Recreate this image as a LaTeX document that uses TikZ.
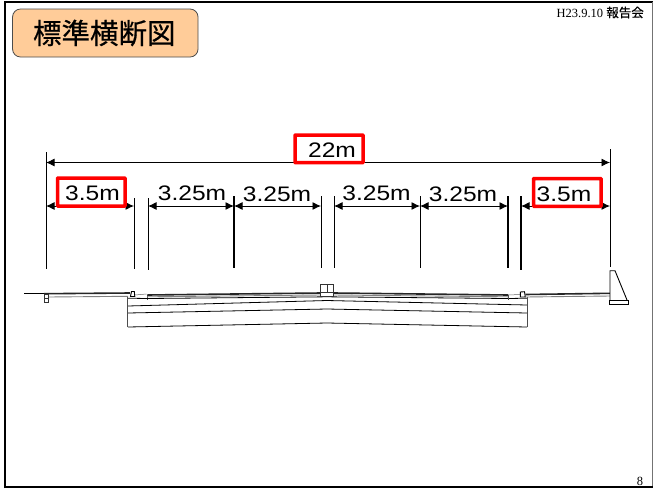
\documentclass[tikz,border=0pt]{standalone}
\usepackage{fontspec}
\setmainfont{Liberation Serif}
\newfontfamily\cjkf[FakeBold=0.6]{Noto Sans CJK JP}
\newfontfamily\dimf[FakeStretch=1.17]{Liberation Sans}
\usetikzlibrary{arrows.meta}
\definecolor{titlefill}{HTML}{FFCC99}
\tikzset{
  tick/.style={line width=0.9pt,black},
  tickheavy/.style={line width=1.3pt,black},
  dimline/.style={line width=0.9pt,{Latex[length=8.5pt,width=8pt]}-{Latex[length=8.5pt,width=8pt]}},
  redbox/.style={draw=red,line width=3.5pt,fill=white,rounded corners=0.6pt,anchor=north west,inner sep=0pt,outer sep=0pt},
  dimlabel/.style={font=\dimf\fontsize{21}{21}\selectfont,inner sep=0pt},
  secline/.style={line width=0.8pt,black},
  secdark/.style={line width=1.6pt,black!85},
  secgray/.style={line width=0.9pt,black!50},
}
\begin{document}
\begin{tikzpicture}[x=1pt,y=-1pt,line cap=butt]
\useasboundingbox (0,0) rectangle (653,488);
\fill[white] (0,0) rectangle (653,488);
% slide frame
\draw[black,line width=2.4pt] (5.2,488) -- (5.2,2) -- (653,2);
\draw[black!55,line width=1pt] (652.2,2) -- (652.2,487);
\draw[black,line width=1.6pt] (5,487) -- (653,487);
% title
\node[draw=black!70,fill=titlefill,line width=0.8pt,rounded corners=8pt,minimum width=185.5pt,minimum height=48pt,inner sep=0pt,outer sep=0pt] (title) at (105.3,33) {};
\node[inner sep=0pt,font=\cjkf\fontsize{28.5}{28.5}\selectfont] (titletext) at (104.3,33) {標準横断図};
\node[anchor=east,inner sep=0pt,font=\fontsize{12.5}{12.5}\selectfont] (date) at (644,12.5) {H23.9.10 {\cjkf 報告会}};
\node[inner sep=0pt,font=\fontsize{12.5}{12.5}\selectfont] (page) at (640,481) {8};
% tick tops and bottoms
\foreach \n/\x/\t/\b/\s in {a/46/152/268.5/tick,b/134/198/268.5/tick,c/148/198/269.5/tick,d/234/196/267.5/tickheavy,e/321/196/268/tick,f/334/196/268/tick,g/420/196/268/tick,h/508/196/268/tickheavy,i/521/196/269.5/tickheavy,j/610/149/267/tick}{
  \coordinate (\n t) at (\x,\t);
  \coordinate (\n b) at (\x,\b);
  \draw[\s] (\n t) -- (\n b);
  \coordinate (\n m) at (\x,206);
  \coordinate (\n u) at (\x,162.5);
}
% dimension lines
\draw[dimline] (au) -- (ju);
\draw[dimline] (am) -- (bm);
\draw[dimline] (cm) -- (dm);
\draw[dimline] (dm) -- (em);
\draw[dimline] (fm) -- (gm);
\draw[dimline] (gm) -- (hm);
\draw[dimline] (im) -- (jm);
% red boxes
\node[redbox,minimum width=68pt,minimum height=27.7pt] (box22) at (295,135) {};
\node[redbox,minimum width=67.5pt,minimum height=28pt] (boxl) at (57.5,178) {};
\node[redbox,minimum width=67.5pt,minimum height=27.8pt] (boxr) at (533.5,178.5) {};
% labels
\node[dimlabel] (l22) at (332,150) {22m};
\node[dimlabel] (l1) at (92.5,193) {3.5m};
\node[dimlabel] (l2) at (192,193.5) {3.25m};
\node[dimlabel] (l3) at (277,194) {3.25m};
\node[dimlabel] (l4) at (376.5,193.5) {3.25m};
\node[dimlabel] (l5) at (463,194) {3.25m};
\node[dimlabel] (l6) at (564,194) {3.5m};
% cross-section: left shoulder
\draw[secline] (24,293.5) -- (44,293.5);
\draw[secdark] (44,293.7) -- (130,293);
\draw[secgray] (48,297) -- (128,296.3);
\draw[line width=0.7pt,black!80] (44,294) rectangle (48.5,302) (44,298) -- (48.5,298);
% left curb
\draw[fill=white,line width=0.9pt] (130.5,296.5) -- (131.5,291.5) -- (134.3,291.5) -- (134.8,296.5) -- cycle;
\draw[line width=0.5pt,black!60] (134.8,295) -- (146.5,294);
\draw[line width=0.8pt,black!70] (147.3,294.5) -- (147.3,300);
% deck
\draw[secdark] (147.3,295) -- (320.5,293) (334,293) -- (508,295);
\draw[secgray] (147.3,296.8) -- (320.5,295) (334,295) -- (508,296.8);
\draw[secline] (127.8,298.2) -- (147.3,298.5) -- (327,296.8) -- (508,298.5) -- (527,298.2);
\draw[secline] (127.8,306) -- (327,300.5) -- (527,305);
\draw[secline] (127.8,313) -- (327,309) -- (527,313);
\draw[secline] (127.8,327) -- (327,323) -- (527,327);
\draw[line width=0.8pt,black!70] (127.8,296.5) -- (127.8,327);
\draw[line width=0.8pt,black!70] (527,296.5) -- (527,327);
% centre block
\draw[draw=black!80,fill=white,line width=0.7pt] (320.7,284.5) rectangle (333.7,296);
\draw[line width=0.7pt,black!80] (327.2,284.5) -- (327.2,292.5) (320.7,292.5) -- (333.7,292.5);
% right shoulder
\draw[line width=0.8pt,black!70] (508,294.5) -- (508,300);
\draw[line width=0.5pt,black!60] (508,295) -- (520,294.5);
\draw[fill=white,line width=0.9pt] (520.3,297) -- (520.3,292) -- (524.5,291.7) -- (525.3,297) -- cycle;
\draw[secdark] (525.3,294.5) -- (610,293.3);
\draw[secgray] (525.3,297) -- (610,296);
% barrier
\draw[line width=0.9pt,fill=white] (610,300) -- (610,270.7) -- (615,270.7) -- (627,300);
\draw[line width=0.9pt,fill=white] (609,300.3) rectangle (628.5,304);
\end{tikzpicture}
\end{document}
